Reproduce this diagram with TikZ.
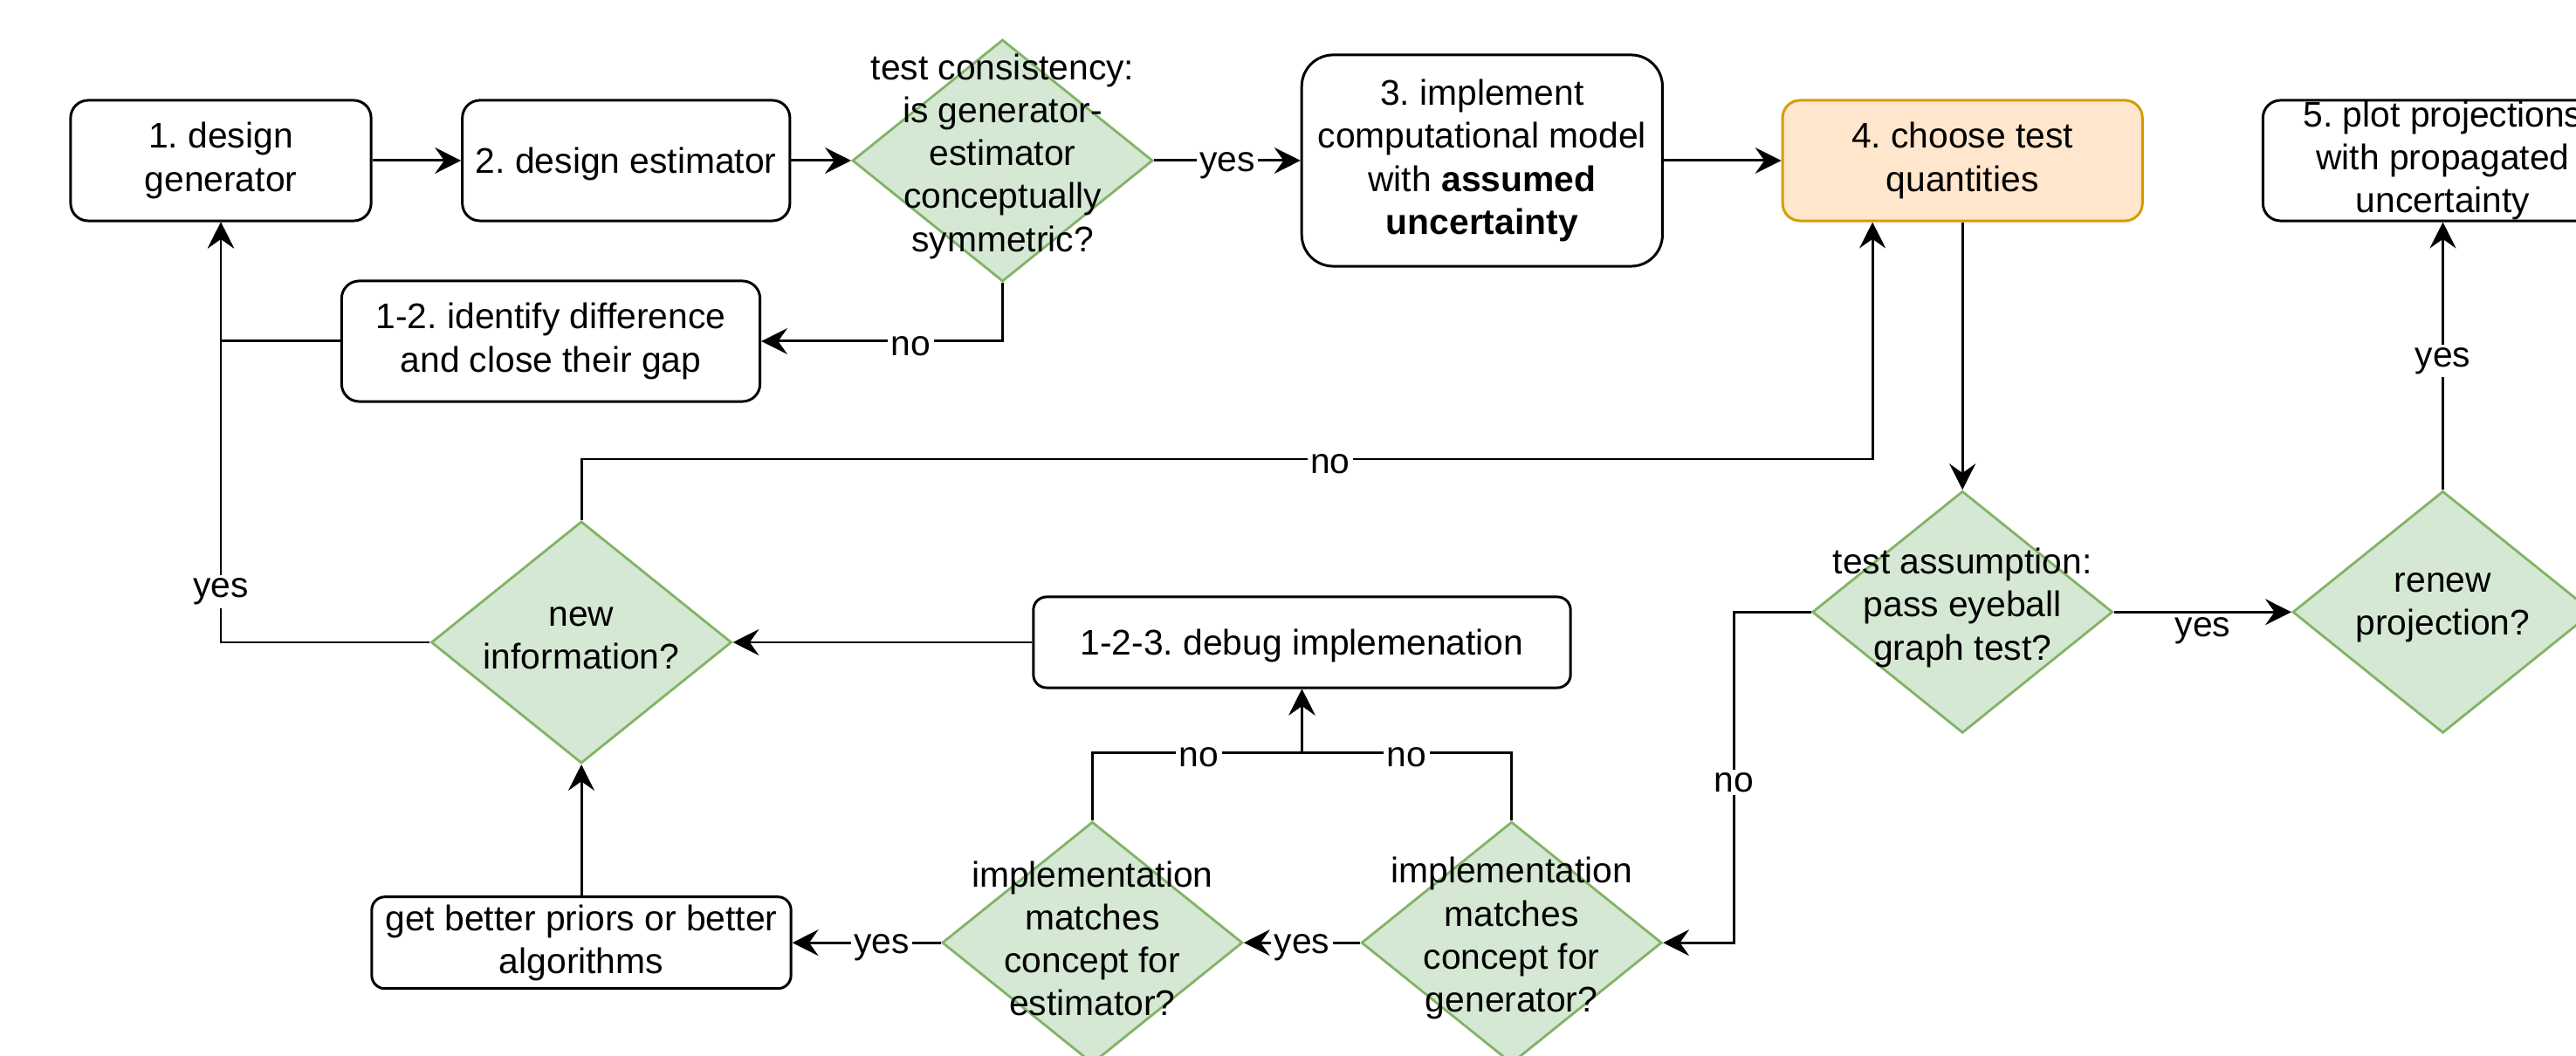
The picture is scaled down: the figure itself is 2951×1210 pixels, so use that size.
\documentclass[tikz,border=0pt]{standalone}
\usepackage{fontspec}
\setmainfont{Liberation Sans}
\frenchspacing
\usetikzlibrary{arrows.meta, shapes.geometric}

\definecolor{decfill}{HTML}{D5E8D4}
\definecolor{decline}{HTML}{82B366}
\definecolor{hifill}{HTML}{FFE6CC}
\definecolor{hiline}{HTML}{D79B00}

\begin{document}
\begin{tikzpicture}[->,>={Stealth[length=8.5pt,width=8.5pt,inset=3pt]},x=0.01cm,y=-0.01cm,
    line width=0.85pt,font=\fontsize{11.6}{14}\selectfont,node distance=5.5cm,
    box/.style={draw,rounded corners=0.2cm,align=center,minimum width=3.44cm,minimum height=1.38cm,inner sep=2pt,
                execute at begin node={\rule{0pt}{10.8pt}}},
    decision/.style={diamond,draw=decline,fill=decfill,line width=0.8pt,minimum width=3.44cm,minimum height=2.77cm,inner sep=0pt},
    dtext/.style={align=center,yshift=1.4pt},
    lbl/.style={fill=white,inner sep=1pt,yshift=-1.6pt}]
			\useasboundingbox (0,0) rectangle (2951,1210);
			\node[box]                                                 (gen)     at (253,184) {1. design\\generator};
			\node[box, right of=gen, node distance=4.64cm, minimum width=3.75cm] (est) {2. design estimator};
			\node[decision, right of=est, node distance=4.31cm,
			      label={[dtext]center:test consistency:\\is generator-\\estimator\\conceptually\\symmetric?}] (cons) {};
			\node[box, right of=cons, node distance=5.49cm, minimum width=4.13cm, minimum height=2.42cm, rounded corners=0.36cm]
			      (impl) {3. implement\\computational model\\with \textbf{assumed}\\\textbf{uncertainty}};
			\node[box, right of=impl, fill=hifill, draw=hiline, minimum width=4.12cm] (choose) {4. choose test\\quantities};
			\node[box, right of=choose, minimum width=4.12cm, inner xsep=0pt, inner ysep=-2pt] (plot) {5. plot projections\\with propagated\\uncertainty};
			\node[box, minimum width=4.79cm]                           (close)   at (631,391) {1-2. identify difference\\and close their gap};
			\node[decision, label={[dtext]center:new\\information?}] (newinfo) at (666,736) {};
			\node[box, right of=newinfo, node distance=8.25cm, minimum width=6.15cm, minimum height=1.04cm, rounded corners=0.15cm]
			      (debug) {1-2-3. debug implemenation};
			\node[box, below of=newinfo, node distance=3.44cm, minimum width=4.80cm, minimum height=1.05cm, rounded corners=0.15cm]
			      (better) {get better priors or better\\algorithms};
			\node[decision, right of=better, node distance=5.85cm,
			      label={[dtext]center:implementation\\matches\\concept for\\estimator?}] (esttest) {};
			\node[decision, right of=esttest, node distance=4.80cm,
			      label={[dtext]center:implementation\\matches\\concept for\\generator?}] (gentest) {};
			\node[decision, below of=choose, node distance=5.17cm,
			      label={[dtext]center:test assumption:\\pass eyeball\\graph test?}] (eyeball) {};
			\node[decision, right of=eyeball, label={[dtext]center:renew\\projection?}] (renew) {};
			\draw (gen) edge (est);
			\draw (est) edge (cons);
			\draw (cons) edge node[lbl] {yes} (impl);
			\draw (impl) edge (choose);
			\draw (choose) edge (eyeball);
			\draw (eyeball) edge node[lbl, yshift=-4.5pt] {yes} (renew);
			\draw (renew) edge node[lbl] {yes} (plot);
			\draw (gentest) edge node[lbl] {yes} (esttest);
			\draw (esttest) edge node[lbl, pos=0.4] {yes} (better);
			\draw (better) edge (newinfo);
			\draw (debug) edge (newinfo);
			\draw (cons.south) |- node[lbl, pos=0.69] {no} (close.east);
			\draw (close.west) -| (gen.south);
			\draw (newinfo.west) -| node[lbl, pos=0.566] {yes} (gen.south);
			\draw (newinfo.north) -- ++(0,-70) -| node[lbl, pos=0.29] {no} ([xshift=-1.03cm]choose.south);
			\draw (eyeball.west) -- ++(-88,0) |- node[lbl, pos=0.25] {no} (gentest.east);
			\draw (esttest.north) -- ++(0,-78) -| node[lbl, pos=0.254] {no} (debug.south);
			\draw (gentest.north) -- ++(0,-78) -| node[lbl, pos=0.25] {no} (debug.south);
		\end{tikzpicture}
\end{document}
